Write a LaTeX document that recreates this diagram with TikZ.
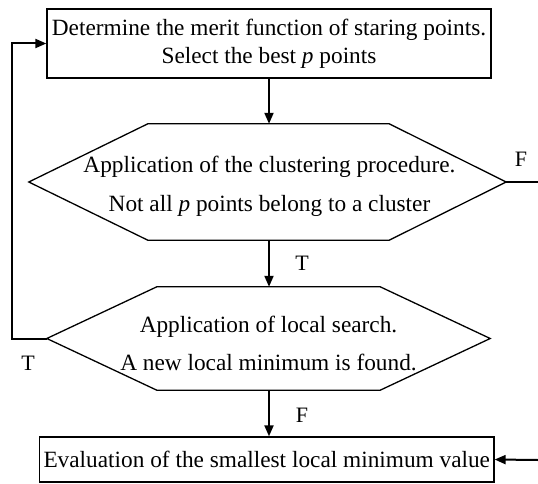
\documentclass[tikz,border=0pt]{standalone}
\usepackage{fontspec}
\setmainfont{Liberation Serif}
\usetikzlibrary{arrows.meta,calc}
\begin{document}
\begin{tikzpicture}[x=1pt,y=-1pt,
  every node/.style={font=\fontsize{23.3}{28}\selectfont},
  boxnode/.style={draw,line width=1.3pt,inner sep=0pt,align=center},
  hexframe/.style={inner sep=0pt},
  hexline/.style={draw,line width=1.3pt,line join=miter},
  hextext/.style={inner sep=0pt,align=center},
  conn/.style={line width=2pt},
  arr/.style={conn,-{Triangle[length=11pt,width=9pt]}},
  lbl/.style={inner sep=0pt,font=\fontsize{22}{26}\selectfont}]
\useasboundingbox (0,0) rectangle (538,484);
% top box
\node[boxnode,minimum width=444pt,minimum height=69pt] (top) at (269,43.5)
  {Determine the merit function of staring points.\\Select the best \textit{p} points};
% hexagon 1
\node[hexframe,minimum width=477pt,minimum height=116pt] (h1) at (267.5,182) {};
\draw[hexline] (h1.west) -- ([xshift=119pt]h1.north west) -- ([xshift=-117pt]h1.north east)
  -- (h1.east) -- ([xshift=-117pt]h1.south east) -- ([xshift=119pt]h1.south west) -- cycle;
\node[hextext] (h1t) at (269.5,186)
  {Application of the clustering procedure.\\[11pt]Not all \textit{p} points belong to a cluster};
% hexagon 2
\node[hexframe,minimum width=443pt,minimum height=103pt] (h2) at (268.5,338.5) {};
\draw[hexline] (h2.west) -- ([xshift=110pt]h2.north west) -- ([xshift=-110pt]h2.north east)
  -- (h2.east) -- ([xshift=-110pt]h2.south east) -- ([xshift=110pt]h2.south west) -- cycle;
\node[hextext] (h2t) at (268.5,343)
  {Application of local search.\\[10pt]A new local minimum is found.};
% bottom box
\node[boxnode,minimum width=454.5pt,minimum height=45pt] (bot) at (266.75,459.5)
  {Evaluation of the smallest local minimum value};
% free ends
\coordinate (loopx) at (12,0);
\coordinate (fend) at (538,182);
\coordinate (rin) at (538,460);
% connectors
\draw[arr] (top.south -| 269,0) -- (h1.north -| 269,0);
\draw[arr] (h1.south -| 269,0) -- (h2.north -| 269,0);
\draw[arr] (h2.south -| 269,0) -- (bot.north -| 269,0);
\draw[arr] (h2.west) -- (h2.west -| loopx) |- (top.west);
\draw[conn] (h1.east) -- (fend);
\draw[arr] (rin) -- (bot.east);
% labels
\node[lbl] (l1) at (302,263) {T};
\node[lbl] (l2) at (302,415) {F};
\node[lbl] (l3) at (28,363) {T};
\node[lbl] (l4) at (521,159) {F};
\end{tikzpicture}
\end{document}
